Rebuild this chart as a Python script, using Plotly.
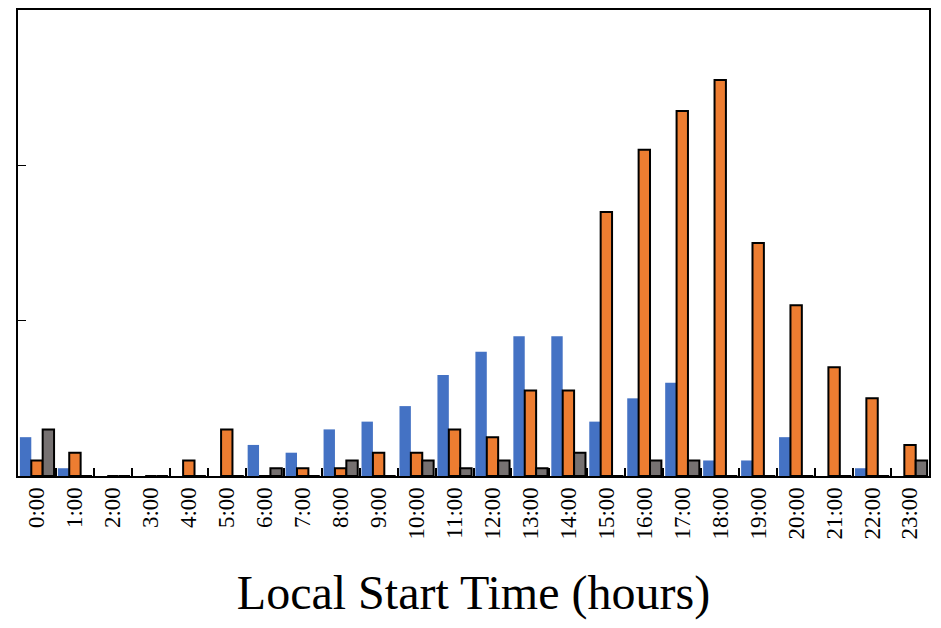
import plotly.graph_objects as go

hours = [f"{h}:00" for h in range(24)]
blue = [5,1,0,0,0,0,4,3,6,7,9,13,16,18,18,7,10,12,2,2,5,0,1,0]
orange = [2,3,0,0,2,6,0,1,1,3,3,6,5,11,11,34,42,47,51,30,22,14,10,4]
gray = [6,0,0,0,0,0,1,0,2,0,2,1,2,1,3,0,2,2,0,0,0,0,0,2]

fig = go.Figure()
fig.add_bar(x=hours, y=blue, marker=dict(color="#4472C4", line=dict(width=0)))
fig.add_bar(x=hours, y=orange, marker=dict(color="#ED7D31", line=dict(color="black", width=2)))
fig.add_bar(x=hours, y=gray, marker=dict(color="#767171", line=dict(color="black", width=2)))
fig.update_layout(
    width=925, height=612, barmode="group", bargap=0.1, bargroupgap=0,
    showlegend=False, plot_bgcolor="white", paper_bgcolor="white",
    margin=dict(l=10, r=4, t=2, b=144),
    font=dict(family="Liberation Serif", color="black"),
)
fig.update_xaxes(type="category", tickson="boundaries", ticks="inside", ticklen=8,
                 tickcolor="black", tickwidth=2, tickangle=-90, tickfont=dict(size=23),
                 showline=True, linecolor="black", linewidth=2, mirror=True, automargin=False,
                 title=dict(text="Local Start Time (hours)", font=dict(size=48), standoff=38))
fig.update_yaxes(range=[0, 60], dtick=20, ticks="inside", ticklen=8, tickcolor="black",
                 showticklabels=False, showgrid=False, zeroline=False, automargin=False,
                 showline=True, linecolor="black", linewidth=2, mirror=True)
fig.write_html("out.html")
